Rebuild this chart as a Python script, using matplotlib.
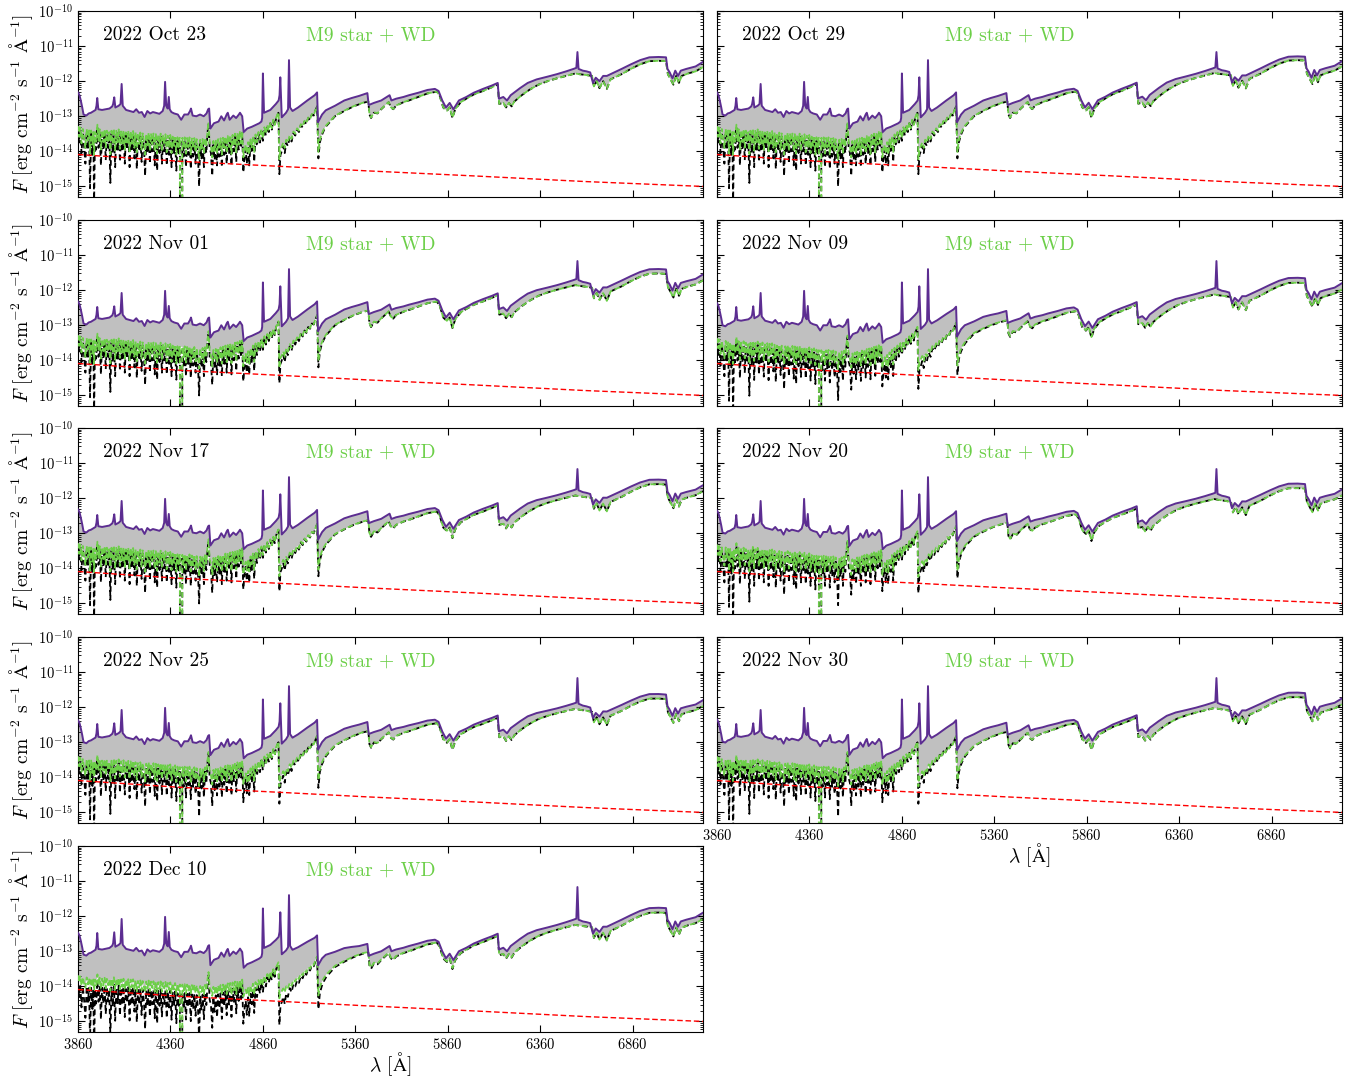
import numpy as np
import matplotlib.pyplot as plt
from matplotlib.ticker import FixedLocator, LogLocator, NullLocator, NullFormatter

plt.rcParams.update({
    'font.family': 'serif',
    'font.serif': ['cmr10'],
    'mathtext.fontset': 'cm',
    'axes.formatter.use_mathtext': True,
    'axes.unicode_minus': False,
})

dates = ["2022 Oct 23", "2022 Oct 29", "2022 Nov 01", "2022 Nov 09", "2022 Nov 17",
         "2022 Nov 20", "2022 Nov 25", "2022 Nov 30", "2022 Dec 10"]

obs_wl = [3860, 3868, 3875, 3883, 3890, 3905, 3918, 3930, 3945, 3955, 3960, 3970, 3990,
          4010, 4030, 4045, 4050, 4062, 4080, 4090, 4102, 4120, 4140, 4160, 4175,
          4190, 4205, 4220, 4235, 4250, 4265, 4280, 4300, 4318, 4326, 4337, 4345,
          4356, 4365, 4380, 4400, 4418, 4435, 4455, 4466, 4471, 4480, 4500, 4520, 4540, 4555,
          4564, 4569, 4576, 4595, 4620, 4635, 4650, 4664, 4670, 4680, 4700, 4715, 4730, 4736,
          4748, 4756, 4775, 4800, 4820, 4840, 4852, 4856, 4866, 4900, 4930, 4945, 4950,
          4962, 4985, 4996, 5007, 5020, 5050, 5100, 5140, 5153, 5158, 5180, 5200,
          5250, 5300, 5340, 5380, 5425, 5432, 5460, 5500, 5530, 5545, 5555, 5580, 5620, 5650,
          5700, 5750, 5790, 5810, 5830, 5850, 5870, 5890, 5920, 5960, 6000, 6050, 6100, 6130,
          6136, 6160, 6180, 6200, 6250, 6292, 6340, 6400, 6450, 6500, 6540, 6555, 6567,
          6590, 6610, 6630, 6645, 6660, 6680, 6700, 6720, 6760, 6800, 6850, 6900, 6950, 7000,
          7040, 7048, 7060, 7075, 7090, 7105, 7120, 7150, 7200, 7240]
obs_logf = [-12.32, -12.40, -12.55, -12.75, -12.95, -12.98, -12.92, -12.90, -12.85, -12.82, -12.70,
            -12.80, -12.82, -12.80, -12.78, -12.72, -12.65, -12.75, -12.70, -12.65,
            -12.70, -12.82, -12.85, -12.88, -12.80, -12.90, -12.88, -13.02, -12.85, -12.92,
            -12.88, -12.90, -12.93, -12.85, -12.70, -12.70, -12.78, -12.80, -12.88,
            -12.92, -12.95, -13.10, -12.95, -12.95, -12.85, -12.78, -12.98, -13.00, -12.95, -13.00,
            -12.92, -12.80, -12.78, -13.35, -13.20, -13.15, -13.00, -13.12, -12.95, -12.90, -13.10,
            -12.98, -13.05, -12.95, -12.90, -13.00, -13.45, -13.35, -13.30, -13.25, -13.20, -13.15,
            -13.05, -12.90, -12.82, -12.65, -12.55, -12.40, -13.03, -12.90, -12.80,
            -12.75, -12.85, -12.75, -12.55, -12.40, -12.32, -13.17, -12.95, -12.83, -12.70,
            -12.55, -12.48, -12.42, -12.34, -12.68, -12.62, -12.55, -12.45, -12.40, -12.55, -12.50,
            -12.45, -12.40, -12.33, -12.25, -12.22, -12.28, -12.55, -12.75, -12.62, -12.80, -12.55,
            -12.45, -12.33, -12.22, -12.12, -12.05, -12.50, -12.45, -12.55, -12.40, -12.20, -12.05,
            -11.95, -11.87, -11.80, -11.72, -11.65, -11.62, -11.65, -11.70, -11.72, -11.75,
            -12.05, -11.90, -12.00, -11.85, -11.85, -11.75, -11.65, -11.52, -11.40, -11.32, -11.31,
            -11.32, -11.65, -11.75, -11.92, -11.70, -11.85, -11.70, -11.65, -11.58, -11.45]

# emission-line peaks of the observed spectrum, log10 flux
line_wl = [3964, 4056, 4096, 4331, 4351, 4860, 4954, 5001, 6561]
line_logf = [-12.48, -12.46, -12.08, -12.02, -12.45, -11.78, -11.89, -11.40, -11.17]

# M9 star model (template), log10 flux; -99 marks the detector gap
m9_wl = [3860, 3866, 3872, 3879, 3886, 3893, 3900, 3907, 3914, 3920, 3925, 3931, 3938, 3943, 3947,
         3952, 3958, 3965, 3971, 3977, 3984, 3990, 3997, 4004, 4010, 4016, 4023, 4029, 4035, 4041,
         4048, 4054, 4061, 4067, 4074, 4080, 4087, 4093, 4100, 4106, 4113, 4119, 4126, 4132, 4139,
         4145, 4152, 4158, 4165, 4171, 4178, 4184, 4191, 4197, 4204, 4210, 4217, 4223, 4229, 4236,
         4242, 4249, 4255, 4262, 4268, 4275, 4281, 4288, 4294, 4301, 4307, 4314, 4320, 4327, 4333,
         4340, 4346, 4353, 4359, 4366, 4372, 4379, 4385, 4392, 4398, 4405, 4411, 4418, 4424, 4431,
         4437, 4444, 4450, 4457, 4463, 4470, 4476, 4483, 4489, 4496, 4502, 4509, 4515, 4521, 4528,
         4534, 4541, 4547, 4554, 4560, 4566, 4572, 4579, 4586, 4592, 4599, 4605, 4612, 4618, 4625,
         4631, 4638, 4644, 4651, 4657, 4664, 4670, 4677, 4683, 4690, 4696, 4703, 4709, 4716, 4722,
         4729, 4735, 4742, 4748, 4754, 4760, 4767, 4773, 4780, 4786, 4793, 4800, 4806, 4813, 4820,
         4828, 4836, 4844, 4852, 4860, 4868, 4876, 4884, 4892, 4900, 4908, 4916, 4924, 4932, 4940,
         4944, 4949, 4955, 4962, 4970, 4978, 4986, 4995, 5005, 5015, 5025, 5035, 5045, 5055, 5065,
         5075, 5085, 5095, 5105, 5115, 5125, 5135, 5145, 5153, 5160, 5168, 5178, 5190, 5203, 5250,
         5300, 5350, 5400, 5430, 5436, 5445, 5460, 5480, 5500, 5540, 5552, 5565, 5580, 5620, 5650,
         5700, 5750, 5800, 5815, 5835, 5855, 5870, 5885, 5900, 5930, 5960, 6000, 6050, 6100, 6130,
         6138, 6160, 6175, 6190, 6205, 6220, 6260, 6300, 6350, 6400, 6450, 6500, 6550, 6570, 6600,
         6640, 6650, 6665, 6680, 6700, 6720, 6740, 6800, 6850, 6900, 6950, 7000, 7040, 7050, 7065,
         7080, 7095, 7110, 7125, 7160, 7200, 7240]
m9_logf = [-13.35, -13.75, -13.40, -14.05, -13.45, -13.85, -14.35, -13.45, -13.90, -13.50, -15.05,
           -13.50, -14.10, -13.55, -15.50, -13.55, -13.95, -13.30, -13.90, -13.45, -14.40, -13.50,
           -13.95, -13.45, -14.25, -13.50, -13.90, -13.55, -14.90, -13.50, -14.05, -13.42, -14.45,
           -13.50, -13.95, -13.45, -14.30, -13.52, -14.00, -13.48, -14.35, -13.55, -13.95, -13.50,
           -14.45, -13.52, -14.00, -13.50, -14.20, -13.55, -14.50, -13.58, -14.00, -13.55, -14.30,
           -13.58, -13.95, -14.70, -13.60, -14.05, -13.55, -14.35, -13.60, -14.00, -13.58, -14.40,
           -13.60, -14.55, -13.62, -14.05, -13.58, -14.35, -13.65, -14.00, -13.60, -14.40, -13.65,
           -14.10, -13.62, -14.45, -13.68, -14.05, -13.65, -14.55, -13.70, -14.10, -13.72, -99,
           -13.72, -14.15, -13.70, -14.45, -13.72, -14.10, -13.70, -14.50, -13.74, -14.15, -13.72,
           -14.35, -13.76, -14.15, -15.00, -13.78, -14.20, -13.75, -14.45, -13.72, -14.05, -13.50,
           -13.20, -13.90, -14.05, -14.70, -13.82, -14.25, -13.78, -14.40, -13.75, -14.15, -13.72,
           -14.45, -13.70, -14.10, -13.66, -14.35, -13.64, -14.05, -13.62, -14.40, -13.60, -14.00,
           -13.56, -14.30, -13.54, -13.95, -13.50, -13.90, -13.48, -14.60, -14.20, -13.95, -14.35,
           -13.85, -14.40, -13.75, -14.05, -13.65, -14.30, -13.58, -13.85, -13.50, -13.75, -13.42,
           -13.70, -13.35, -13.55, -13.28, -13.45, -13.20, -13.38, -13.12, -13.28, -13.05, -12.95,
           -12.90, -14.65, -14.10, -14.00, -13.85, -14.05, -13.75, -13.85, -13.60, -13.72, -13.48,
           -13.55, -13.38, -13.45, -13.25, -13.32, -13.15, -13.22, -13.05, -13.10, -12.95, -12.98,
           -12.82, -12.72, -14.20, -13.75, -13.55, -13.40, -13.28, -13.00, -12.85, -12.72, -12.62,
           -12.58, -12.95, -13.05, -12.90, -12.92, -12.80, -12.60, -12.75, -12.80, -12.70, -12.60,
           -12.55, -12.45, -12.35, -12.30, -12.40, -12.75, -12.85, -12.75, -13.05, -12.80, -12.60,
           -12.50, -12.38, -12.28, -12.17, -12.10, -12.65, -12.62, -12.75, -12.62, -12.72, -12.58,
           -12.40, -12.25, -12.10, -12.00, -11.92, -11.85, -11.78, -11.80, -11.82, -11.85, -12.15,
           -12.00, -12.20, -12.00, -12.22, -11.95, -11.80, -11.65, -11.52, -11.43, -11.42, -11.43,
           -11.80, -11.95, -12.10, -11.85, -12.05, -11.85, -11.78, -11.72, -11.60]

# white dwarf model, log10 flux
wd_wl = [3860, 4400, 5000, 5400, 6000, 6600, 7240]
wd_logf = [-14.09, -14.28, -14.44, -14.55, -14.70, -14.86, -15.00]

# per-epoch shifts (dex) of the templates at 3860, 4900, 5400 and 7240 A
shift_wl = [3860, 4900, 5400, 7240]
obs_shift = [[0.00, 0.00, 0.00, 0.00], [0.00, 0.00, 0.00, 0.02], [0.00, 0.00, 0.00, -0.10],
             [-0.05, -0.05, -0.25, -0.35], [0.00, 0.00, -0.03, -0.18], [-0.03, 0.00, -0.10, -0.30],
             [-0.05, 0.00, -0.08, -0.35], [-0.03, 0.00, -0.10, -0.30], [-0.15, 0.00, -0.45, -0.45]]
m9_shift = [[0.00, 0.00, 0.00, 0.00], [0.00, 0.00, 0.00, 0.02], [0.00, 0.00, 0.00, -0.12],
            [-0.10, -0.15, -0.28, -0.38], [0.00, 0.00, -0.05, -0.20], [-0.05, -0.05, -0.12, -0.32],
            [-0.15, -0.10, -0.10, -0.37], [-0.15, -0.10, -0.12, -0.32], [-0.55, -0.45, -0.45, -0.48]]

xticks = [3860, 4360, 4860, 5360, 5860, 6360, 6860]

c_obs = '#5c2d91'
c_mod = '#6ccf48'
c_fill = '#c0c0c0'

fig = plt.figure(figsize=(13.57, 10.84), dpi=100)
W, H = 1357.0, 1084.0
lefts = [78 / W, 717 / W]
tops = [11, 220, 428, 637, 846]
aw, ah = 625 / W, 186 / H

m9_wl_a = np.array(m9_wl, float)
m9_logf_a = np.array(m9_logf)
gap = m9_logf_a < -50
wd_on_m9 = 10 ** np.interp(m9_wl_a, wd_wl, wd_logf)

for i, date in enumerate(dates):
    row, col = divmod(i, 2)
    ax = fig.add_axes([lefts[col], 1 - (tops[row] + 186) / H, aw, ah])

    cont = np.array(obs_logf) + np.interp(obs_wl, shift_wl, obs_shift[i])
    o_wl = np.r_[obs_wl, line_wl].astype(float)
    o_lf = np.r_[cont, line_logf]
    order = np.argsort(o_wl)
    o_wl, obs = o_wl[order], 10 ** o_lf[order]

    m9 = 10 ** (m9_logf_a + np.interp(m9_wl_a, shift_wl, m9_shift[i]))
    m9[gap] = 0.0
    tot = np.where(gap, 0.0, m9 + wd_on_m9)

    ok = ~gap
    ax.fill(np.r_[o_wl, m9_wl_a[ok][::-1]], np.r_[obs, tot[ok][::-1]],
            color=c_fill, lw=0, zorder=1)
    ax.plot(m9_wl_a, m9, color='k', ls=(0, (3, 2)), lw=1.3, zorder=2)
    ax.plot(m9_wl_a, tot, color=c_mod, ls=(0, (3, 1.5)), lw=1.3, zorder=3)
    ax.plot(wd_wl, 10 ** np.array(wd_logf), color='red', ls=(0, (4, 2)), lw=1.0, zorder=4)
    ax.plot(o_wl, obs, color=c_obs, lw=1.4, zorder=5)

    ax.set_yscale('log')
    ax.set_xlim(3860, 7240)
    ax.set_ylim(5e-16, 1e-10)
    ax.xaxis.set_major_locator(FixedLocator(xticks))
    ax.xaxis.set_minor_locator(NullLocator())
    ax.yaxis.set_major_locator(LogLocator(base=10, numticks=12))
    ax.yaxis.set_minor_locator(LogLocator(base=10, subs=np.arange(2, 10), numticks=12))
    ax.yaxis.set_minor_formatter(NullFormatter())
    ax.tick_params(which='both', direction='in', top=True, right=True, labelsize=10.5)
    ax.tick_params(which='major', length=5, width=0.8)
    ax.tick_params(which='minor', length=2.5, width=0.6)

    if col == 0:
        ax.set_ylabel(r'$F$ [erg cm$^{-2}$ s$^{-1}$ $\mathrm{\AA}^{-1}$]', fontsize=14, labelpad=2)
    else:
        ax.tick_params(labelleft=False)
    if i not in (7, 8):
        ax.tick_params(labelbottom=False)
    else:
        ax.set_xlabel(r'$\lambda$ [$\mathrm{\AA}$]', fontsize=14, labelpad=-1)

    ax.text(0.04, 0.87, date, transform=ax.transAxes, fontsize=14, va='center', ha='left')
    ax.text(0.365, 0.87, 'M9 star + WD', transform=ax.transAxes, fontsize=14,
            va='center', ha='left', color=c_mod)

fig.savefig('out.png', dpi=100)
